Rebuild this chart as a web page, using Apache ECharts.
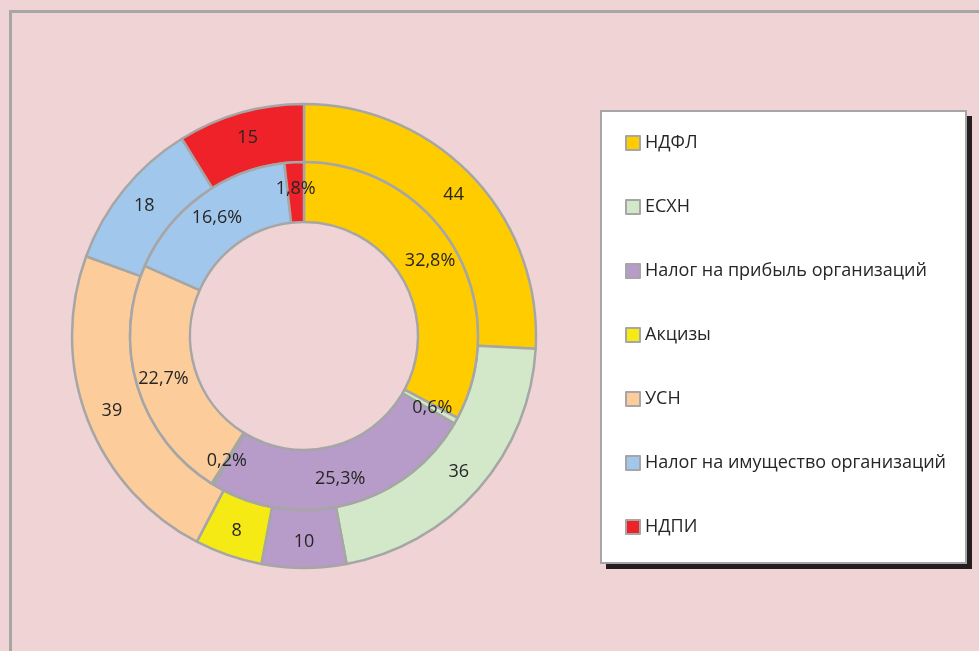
<!DOCTYPE html>
<html>
<head>
<meta charset="utf-8">
<script src="https://cdn.jsdelivr.net/npm/echarts@6/dist/echarts.min.js"></script>
<style>
  html, body { margin: 0; padding: 0; background: #F0D3D4; }
  #chart { width: 979px; height: 651px; }
</style>
</head>
<body>
<div id="chart"></div>
<script>
// категории налогов
var categories = ['НДФЛ', 'ЕСХН', 'Налог на прибыль организаций', 'Акцизы', 'УСН', 'Налог на имущество организаций', 'НДПИ'];
// внешнее кольцо - значения
var outerValues = [44, 36, 10, 8, 39, 18, 15];
// внутреннее кольцо - доли, %
var innerShares = [32.8, 0.6, 25.3, 0.2, 22.7, 16.6, 1.8];
var colors = ['#FFCC00', '#D2E8C8', '#B79BC8', '#F5EA14', '#FCCC9B', '#A1C8EC', '#EE2228'];

var gray = '#A6A6A6';
var font = '"Open Sans", "Noto Sans", sans-serif';

function buildData(values) {
  return values.map(function (v, i) {
    return { name: categories[i], value: v, itemStyle: { color: colors[i] } };
  });
}

var chart = echarts.init(document.getElementById('chart'));

chart.setOption({
  animation: false,
  backgroundColor: '#F0D3D4',
  graphic: [
    // рамка области диаграммы
    { type: 'rect', z: 0, shape: { x: 10.5, y: 11.5, width: 1100, height: 800 },
      style: { fill: null, stroke: gray, lineWidth: 3 } },
    // тень легенды
    { type: 'rect', z: 0, shape: { x: 606, y: 116, width: 366, height: 453 },
      style: { fill: '#231F20' } },
    // рамка легенды
    { type: 'rect', z: 0, shape: { x: 601, y: 111, width: 365, height: 452 },
      style: { fill: '#ffffff', stroke: gray, lineWidth: 2 } }
  ],
  legend: {
    orient: 'vertical',
    left: 625,
    top: 133,
    padding: 0,
    itemWidth: 14,
    itemHeight: 14,
    itemGap: 44,
    icon: 'rect',
    selectedMode: false,
    itemStyle: { borderColor: gray, borderWidth: 2 },
    textStyle: { fontSize: 18, lineHeight: 20, color: '#262626', fontFamily: font },
    data: categories
  },
  series: [
    {
      name: 'Значения',
      type: 'pie',
      center: [304, 336],
      radius: [174, 232],
      avoidLabelOverlap: false,
      silent: true,
      itemStyle: { borderColor: gray, borderWidth: 2.5 },
      label: {
        show: true,
        position: 'inside',
        formatter: '{c}',
        fontSize: 18,
        color: '#262626',
        fontFamily: font
      },
      labelLine: { show: false },
      data: buildData(outerValues)
    },
    {
      name: 'Доли',
      type: 'pie',
      center: [304, 336],
      radius: [114, 174],
      avoidLabelOverlap: false,
      silent: true,
      itemStyle: { borderColor: gray, borderWidth: 2.5 },
      label: {
        show: true,
        position: 'inside',
        formatter: function (p) {
          return String(p.value.toFixed(1)).replace('.', ',') + '%';
        },
        fontSize: 18,
        color: '#262626',
        fontFamily: font
      },
      labelLine: { show: false },
      data: buildData(innerShares)
    }
  ]
});
</script>
</body>
</html>
